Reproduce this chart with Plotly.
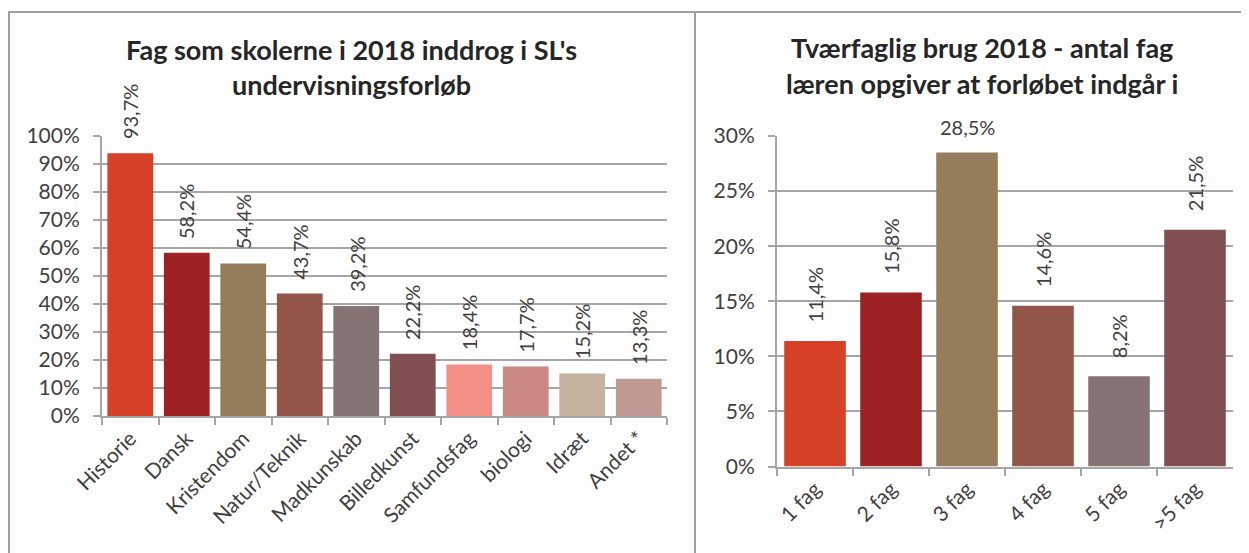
import plotly.graph_objects as go

W, H = 1249, 553
OFF = 8  # page body margin the browser adds around the figure

# left chart data
fag = ["Historie", "Dansk", "Kristendom", "Natur/Teknik", "Madkunskab",
       "Billedkunst", "Samfundsfag", "biologi", "Idræt", "Andet *"]
fag_andel = [0.937, 0.582, 0.544, 0.437, 0.392, 0.222, 0.184, 0.177, 0.152, 0.133]
fag_farver = ["#D64127", "#9E2224", "#957D5B", "#935547", "#857473",
              "#814F51", "#F49087", "#C98883", "#C4B29E", "#C09992"]

# right chart data
antal = ["1 fag", "2 fag", "3 fag", "4 fag", "5 fag", ">5 fag"]
antal_andel = [0.114, 0.158, 0.285, 0.146, 0.082, 0.215]
antal_farver = ["#D64127", "#9E2224", "#957D5B", "#935547", "#857473", "#814F51"]

venstre_titel = ["Fag som skolerne i 2018 inddrog i SL's", "undervisningsforløb"]
hoejre_titel = ["Tværfaglig brug 2018 - antal fag", "læren opgiver at forløbet indgår i"]

GRID = "#A6A6A6"
TXT = "#404040"


def px_x(x):
    return (x - OFF) / W


def px_y(y):
    return 1 - (y - OFF) / H


def pct(v):
    return f"{v * 100:.1f}%".replace(".", ",")


fig = go.Figure()

fig.add_trace(go.Bar(
    x=fag, y=fag_andel, marker_color=fag_farver, marker_line_width=0,
    xaxis="x", yaxis="y", showlegend=False, hoverinfo="skip"))
fig.add_trace(go.Bar(
    x=antal, y=antal_andel, marker_color=antal_farver, marker_line_width=0,
    xaxis="x2", yaxis="y2", showlegend=False, hoverinfo="skip"))

annotations = []
for k, v in zip(fag, fag_andel):
    annotations.append(dict(x=k, y=v, xref="x", yref="y", text=pct(v), textangle=-90,
                            showarrow=False, xanchor="center", yanchor="bottom",
                            yshift=12, font=dict(size=20, color=TXT)))
top = max(antal_andel)
for k, v in zip(antal, antal_andel):
    # the tallest label sits horizontally above the bar in the original
    annotations.append(dict(x=k, y=v, xref="x2", yref="y2", text=pct(v),
                            textangle=0 if v == top else -90,
                            showarrow=False, xanchor="center", yanchor="bottom",
                            yshift=12 if v == top else 16,
                            font=dict(size=20, color=TXT)))

for i, line in enumerate(venstre_titel):
    annotations.append(dict(x=px_x(352), y=px_y(49 + 35 * i), xref="paper", yref="paper",
                            text=f"<b>{line}</b>", showarrow=False,
                            xanchor="center", yanchor="middle",
                            font=dict(size=27, color="#262626")))
for i, line in enumerate(hoejre_titel):
    annotations.append(dict(x=px_x(982), y=px_y(48 + 35 * i), xref="paper", yref="paper",
                            text=f"<b>{line}</b>", showarrow=False,
                            xanchor="center", yanchor="middle",
                            font=dict(size=27, color="#262626")))

xcommon = dict(type="category", showline=True, linecolor=GRID, linewidth=2,
               ticks="outside", tickson="boundaries", ticklen=7, tickcolor=GRID,
               tickwidth=2, tickangle=-45, tickfont=dict(size=21, color=TXT),
               showgrid=False, fixedrange=True, automargin=False)
ycommon = dict(showline=True, linecolor=GRID, linewidth=2, ticks="outside",
               ticklen=7, tickcolor=GRID, tickwidth=2, showgrid=True,
               gridcolor=GRID, gridwidth=2, tickformat=".0%", zeroline=False,
               tickfont=dict(size=21, color=TXT), ticklabelstandoff=9,
               fixedrange=True, automargin=False)

fig.update_layout(
    width=W, height=H,
    margin=dict(l=0, r=0, t=0, b=0, autoexpand=False),
    paper_bgcolor="white", plot_bgcolor="white",
    font=dict(family="Lato, sans-serif", color=TXT),
    separators=",.",
    bargap=0.19,
    xaxis=dict(domain=[px_x(102), px_x(667)], anchor="y", **xcommon),
    yaxis=dict(domain=[px_y(416), px_y(135.7)], anchor="x", range=[0, 1],
               dtick=0.1, **ycommon),
    xaxis2=dict(domain=[px_x(777), px_x(1233)], anchor="y2", **xcommon),
    yaxis2=dict(domain=[px_y(466.5), px_y(136)], anchor="x2", range=[0, 0.3],
                dtick=0.05, **ycommon),
    annotations=annotations,
    shapes=[
        dict(type="rect", xref="paper", yref="paper", x0=px_x(9), x1=px_x(695),
             y0=px_y(620), y1=px_y(12), line=dict(color="#A0A0A0", width=2)),
        dict(type="rect", xref="paper", yref="paper", x0=px_x(695), x1=px_x(1275),
             y0=px_y(620), y1=px_y(12), line=dict(color="#A0A0A0", width=2)),
    ],
)

fig.write_html("out.html")
